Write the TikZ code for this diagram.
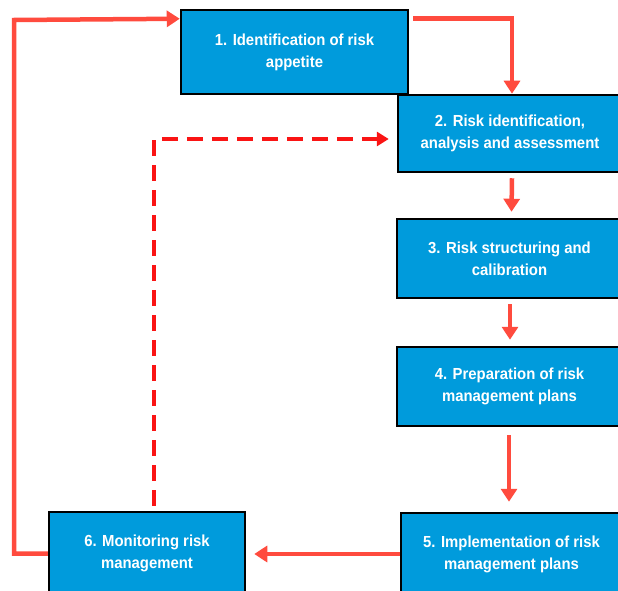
\documentclass[tikz,border=0pt]{standalone}
\usepackage{fontspec}
\setmainfont{Liberation Sans}[FakeStretch=0.93]
\usetikzlibrary{calc,arrows.meta}
\definecolor{boxblue}{RGB}{0,155,220}
\definecolor{arrred}{RGB}{255,75,62}
\definecolor{dashred}{RGB}{250,20,20}
\tikzset{
  stepbox/.style={draw=black, line width=2.5pt, fill=boxblue, text=white,
    font=\bfseries\fontsize{16}{22}\selectfont, align=center, inner sep=0pt},
  flow/.style={draw=arrred, line width=4.5pt, -{Triangle[width=16pt,length=13pt]}},
  feedback/.style={draw=dashred, line width=4pt, dash pattern=on 16pt off 9pt,
    -{Triangle[width=14pt,length=12pt]}}
}
\begin{document}
\begin{tikzpicture}[x=1pt,y=-1pt]
\useasboundingbox (0,0) rectangle (618,591);
\begin{scope}
\clip (0,0) rectangle (618,591);
\node[stepbox, minimum width=227pt, minimum height=84pt] (b1) at (294.5,52) {1. Identification of risk\\appetite};
\node[stepbox, minimum width=224pt, minimum height=77pt] (b2) at (510,133.5) {2. Risk identification,\\analysis and assessment};
\node[stepbox, minimum width=225pt, minimum height=79pt] (b3) at (509.5,258.5) {3. Risk structuring and\\calibration};
\node[stepbox, minimum width=225pt, minimum height=79pt] (b4) at (509.5,386.5) {4. Preparation of risk\\management plans};
\node[stepbox, minimum width=221pt, minimum height=82pt] (b5) at (511.5,554) {5. Implementation of risk\\management plans};
\node[stepbox, minimum width=196pt, minimum height=83pt] (b6) at (147,553.5) {6. Monitoring risk\\management};
\end{scope}
\draw[flow] ($(b1.north east)+(4,10)$) -| ($(b2.north)+(2,0)$);
\draw[flow] ($(b2.south)+(2,5)$) -- ($(b3.north)+(2,-6)$);
\draw[flow] ($(b3.south)+(0.5,5)$) -- ($(b4.north)+(0.5,-6)$);
\draw[flow] ($(b4.south)+(-0.5,8)$) -- ($(b5.north)+(-2.5,-10)$);
\draw[flow] (b5.west |- 0,554) -- ($(b6.east)+(8,0.5)$);
\draw[flow] (b6.west) -| (14,20) -- ($(b1.north west)+(0,10)$);
\draw[feedback] ($(b6.north)+(6.5,-5)$) |- ($(b2.west)+(-8,5.5)$);
\end{tikzpicture}
\end{document}
